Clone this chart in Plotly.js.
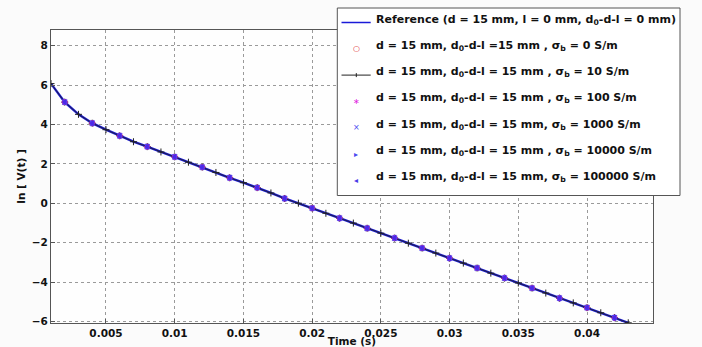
<!DOCTYPE html>
<html>
<head>
<meta charset="utf-8">
<script src="https://cdn.plot.ly/plotly-3.0.1.min.js"></script>
<style>html,body{margin:0;padding:0;background:#fbfbfb;}#chart{width:702px;height:347px;}</style>
</head>
<body>
<div id="chart"></div>
<script>
// Time axis (s) for the reference curve
const tLine = [0.001,0.0015,0.002,0.003,0.004,0.005,0.006,0.007,0.008,0.009,0.010,0.011,0.012,0.013,0.014,0.015,0.016,0.017,0.018,0.019,0.020,0.021,0.022,0.023,0.024,0.025,0.026,0.027,0.028,0.029,0.030,0.031,0.032,0.033,0.034,0.035,0.036,0.037,0.038,0.039,0.040,0.041,0.042,0.043];
// ln[V(t)] of the reference
const lnRef = [6.08,5.58,5.14,4.52,4.07,3.74,3.43,3.13,2.88,2.61,2.36,2.09,1.84,1.57,1.30,1.05,0.80,0.53,0.25,0.01,-0.24,-0.50,-0.75,-1.00,-1.26,-1.51,-1.76,-2.02,-2.27,-2.52,-2.78,-3.03,-3.28,-3.54,-3.79,-4.04,-4.30,-4.55,-4.81,-5.05,-5.29,-5.55,-5.80,-6.06];
// ln[V(t)] for sigma_b = 10 S/m (line with + markers)
const tS10 = [0.001,0.002,0.003,0.004,0.005,0.006,0.007,0.008,0.009,0.010,0.011,0.012,0.013,0.014,0.015,0.016,0.017,0.018,0.019,0.020,0.021,0.022,0.023,0.024,0.025,0.026,0.027,0.028,0.029,0.030,0.031,0.032,0.033,0.034,0.035,0.036,0.037,0.038,0.039,0.040,0.041,0.042,0.043];
const lnS10 = [6.08,5.14,4.52,4.07,3.74,3.43,3.13,2.88,2.61,2.36,2.09,1.84,1.57,1.30,1.05,0.80,0.53,0.25,0.01,-0.24,-0.50,-0.75,-1.00,-1.26,-1.51,-1.76,-2.02,-2.27,-2.52,-2.78,-3.03,-3.28,-3.54,-3.79,-4.04,-4.30,-4.55,-4.81,-5.05,-5.29,-5.55,-5.80,-6.06];
// Marker-only series (all overlap the reference)
const tMarks = [0.002,0.004,0.006,0.008,0.010,0.012,0.014,0.016,0.018,0.020,0.022,0.024,0.026,0.028,0.030,0.032,0.034,0.036,0.038,0.040,0.042];
const lnS0      = [5.14,4.07,3.43,2.88,2.36,1.84,1.30,0.80,0.25,-0.24,-0.75,-1.26,-1.76,-2.27,-2.78,-3.28,-3.79,-4.30,-4.81,-5.29,-5.80];
const lnS100    = [5.14,4.07,3.43,2.88,2.36,1.84,1.30,0.80,0.25,-0.24,-0.75,-1.26,-1.76,-2.27,-2.78,-3.28,-3.79,-4.30,-4.81,-5.29,-5.80];
const lnS1000   = [5.14,4.07,3.43,2.88,2.36,1.84,1.30,0.80,0.25,-0.24,-0.75,-1.26,-1.76,-2.27,-2.78,-3.28,-3.79,-4.30,-4.81,-5.29,-5.80];
const lnS10000  = [5.14,4.07,3.43,2.88,2.36,1.84,1.30,0.80,0.25,-0.24,-0.75,-1.26,-1.76,-2.27,-2.78,-3.28,-3.79,-4.30,-4.81,-5.29,-5.80];
const lnS100000 = [5.14,4.07,3.43,2.88,2.36,1.84,1.30,0.80,0.25,-0.24,-0.75,-1.26,-1.76,-2.27,-2.78,-3.28,-3.79,-4.30,-4.81,-5.29,-5.80];

const xTickVals = [0.005,0.01,0.015,0.02,0.025,0.03,0.035,0.04];
const xTickText = ['0.005','0.01','0.015','0.02','0.025','0.03','0.035','0.04'];
const yTickVals = [-6,-4,-2,0,2,4,6,8];

const names = [
  'Reference (d = 15 mm, l = 0 mm, d<sub>0</sub>-d-l = 0 mm)',
  'd = 15 mm, d<sub>0</sub>-d-l =15 mm , σ<sub>b</sub> = 0 S/m',
  'd = 15 mm, d<sub>0</sub>-d-l = 15 mm , σ<sub>b</sub> = 10 S/m',
  'd = 15 mm, d<sub>0</sub>-d-l = 15 mm , σ<sub>b</sub> = 100 S/m',
  'd = 15 mm, d<sub>0</sub>-d-l = 15 mm, σ<sub>b</sub> = 1000 S/m',
  'd = 15 mm, d<sub>0</sub>-d-l = 15 mm , σ<sub>b</sub> = 10000 S/m',
  'd = 15 mm, d<sub>0</sub>-d-l = 15 mm, σ<sub>b</sub> = 100000 S/m'
];
// legend sample glyphs and colours
const legendGlyph = [null, '○', '+', '∗', '×', '▸', '◂'];
const legendColor = ['#1a1ad8', '#e03030', '#222222', '#e020e0', '#4a4af0', '#4a4af0', '#4a3ae8'];

const traces = [
  {x:tLine, y:lnRef, name:names[0], mode:'lines', line:{color:'#1a1ad8', width:2.4}},
  {x:tMarks, y:lnS0, name:names[1], mode:'markers', marker:{symbol:'circle-open', color:'#e03030', size:5, line:{width:1}}},
  {x:tS10, y:lnS10, name:names[2], mode:'lines+markers', line:{color:'#222', width:0.8}, marker:{symbol:'cross-thin-open', color:'#222', size:5, line:{width:1, color:'#222'}}},
  {x:tMarks, y:lnS100, name:names[3], mode:'markers', marker:{symbol:'asterisk-open', color:'#e020e0', size:5, line:{width:1.2, color:'#e020e0'}}},
  {x:tMarks, y:lnS1000, name:names[4], mode:'markers', marker:{symbol:'x-thin-open', color:'#4a4af0', size:5, line:{width:1.2, color:'#4a4af0'}}},
  {x:tMarks, y:lnS10000, name:names[5], mode:'markers', marker:{symbol:'triangle-right', color:'#5a3af0', size:6}},
  {x:tMarks, y:lnS100000, name:names[6], mode:'markers', marker:{symbol:'triangle-left', color:'#4a2ae8', size:6}}
];

const F = 'DejaVu Sans, Verdana, sans-serif';
const axisFont = {family:F, size:10.5, color:'#111', weight:'bold'};

// plot-area geometry in pixels (for placing the hand-drawn legend)
const M = {l:51, r:49, t:30, b:24}, W = 702, H = 347;
const pw = W - M.l - M.r, ph = H - M.t - M.b;
const px = v => (v - M.l) / pw;
const py = v => (H - M.b - v) / ph;

const shapes = [
  {type:'rect', xref:'paper', yref:'paper', x0:px(337.3), x1:px(680), y0:py(195.5), y1:py(8), fillcolor:'#ffffff', line:{color:'#555', width:1}, layer:'above'}
];
const annotations = [];
const rowY0 = 22.5, rowStep = 26.3;
names.forEach((nm, i) => {
  const yc = rowY0 + i * rowStep;
  if (i === 0 || i === 2) {
    shapes.push({type:'line', xref:'paper', yref:'paper', x0:px(341.5), x1:px(370.7), y0:py(yc), y1:py(yc), line:{color:legendColor[i], width:i === 0 ? 1.5 : 1}, layer:'above'});
  }
  if (i === 2) {
    shapes.push({type:'line', xref:'paper', yref:'paper', x0:px(356.3), x1:px(356.3), y0:py(yc - 2), y1:py(yc + 2), line:{color:'#222', width:1}, layer:'above'});
  } else if (legendGlyph[i]) {
    annotations.push({xref:'paper', yref:'paper', x:px(356.3), y:py(yc), xanchor:'center', yanchor:'middle', showarrow:false,
      text:legendGlyph[i], font:{family:F, size:8, color:legendColor[i]}});
  }
  annotations.push({xref:'paper', yref:'paper', x:px(373.5), y:py(yc - 3), xanchor:'left', yanchor:'middle', showarrow:false,
    text:nm, font:{family:F, size:11, color:'#111', weight:'bold'}});
});

const layout = {
  width:W, height:H,
  margin:M,
  paper_bgcolor:'#fbfbfb', plot_bgcolor:'#fefefe',
  showlegend:false,
  shapes:shapes, annotations:annotations,
  xaxis:{range:[0.001,0.0448], tickvals:xTickVals, ticktext:xTickText,
         showgrid:true, gridcolor:'#9a9a9a', griddash:'dot', gridwidth:1, zeroline:false,
         showline:true, linecolor:'#555', linewidth:1, mirror:true, ticks:'inside', ticklen:4, tickcolor:'#555',
         tickfont:axisFont, title:{text:'Time (s)', font:axisFont, standoff:3}},
  yaxis:{range:[-6.07,8.8], tickvals:yTickVals,
         showgrid:true, gridcolor:'#9a9a9a', griddash:'dot', gridwidth:1, zeroline:false,
         showline:true, linecolor:'#555', linewidth:1, mirror:true, ticks:'inside', ticklen:4, tickcolor:'#555',
         tickfont:axisFont, title:{text:'ln [ V(t) ]', font:axisFont, standoff:4}}
};

Plotly.newPlot('chart', traces, layout, {displayModeBar:false, staticPlot:true});
</script>
</body>
</html>
